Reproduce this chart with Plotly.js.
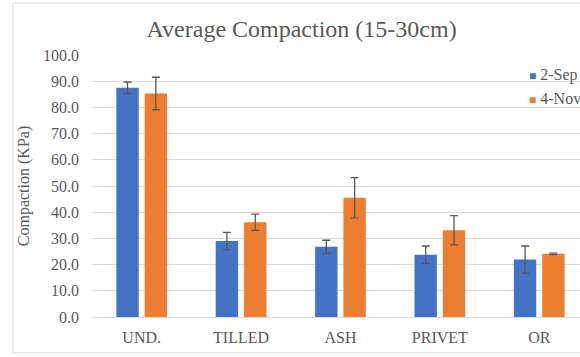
<!DOCTYPE html>
<html>
<head>
<meta charset="utf-8">
<script src="https://cdn.plot.ly/plotly-3.0.1.min.js"></script>
<style>
  html, body { margin: 0; padding: 0; background: #fff; }
  #chart { width: 580px; height: 357px; }
</style>
</head>
<body>
<div id="chart"></div>
<script>
// Average compaction at 15-30 cm depth, per treatment, two sampling dates
const categories = ["UND.", "TILLED", "ASH", "PRIVET", "OR"];
const sepValues = [87.5, 29.0, 26.8, 23.8, 21.9];
const sepErrors = [2.2, 3.3, 2.5, 3.3, 5.2];
const novValues = [85.3, 36.2, 45.5, 33.1, 24.1];
const novErrors = [6.2, 3.1, 7.7, 5.6, 0.3];
const seriesNames = ["2-Sep", "4-Nov"];
const seriesColors = ["#4472C4", "#ED7D31"];
const yTicks = [0, 10, 20, 30, 40, 50, 60, 70, 80, 90, 100];

const serif = "'Liberation Serif', 'Times New Roman', serif";
const grey = "#595959";

const errStyle = { type: "data", visible: true, color: "#595959", thickness: 1.3, width: 4 };

const traces = [
  {
    type: "bar", name: seriesNames[0], x: categories, y: sepValues,
    marker: { color: seriesColors[0] },
    error_y: Object.assign({ array: sepErrors }, errStyle)
  },
  {
    type: "bar", name: seriesNames[1], x: categories, y: novValues,
    marker: { color: seriesColors[1] },
    error_y: Object.assign({ array: novErrors }, errStyle)
  }
];

// Legend drawn as text entries at the right edge (it runs past the frame)
const legendEntries = seriesNames.map((name, i) => ({
  xref: "paper", yref: "paper",
  x: 0.892, y: 0.924 - i * 0.09, xanchor: "left", yanchor: "middle",
  showarrow: false, align: "left",
  text: `<span style="color:${seriesColors[i]};font-size:12px">■</span> ${name}`,
  font: { family: serif, size: 16, color: grey }
}));

const layout = {
  width: 580, height: 357,
  margin: { l: 92, r: 0, t: 55, b: 40, pad: 0 },
  paper_bgcolor: "#fff", plot_bgcolor: "#fff",
  barmode: "group", bargap: 0.43, bargroupgap: 0.21,
  showlegend: false,
  title: {
    text: "Average Compaction (15-30cm)",
    font: { family: serif, size: 24, color: grey },
    x: 0.52, xanchor: "center", y: 0.92, yanchor: "middle"
  },
  xaxis: {
    type: "category", range: [-0.5, 4.41], fixedrange: true,
    showgrid: false, zeroline: false, showline: false, ticks: "",
    ticklabelstandoff: 9,
    tickfont: { family: serif, size: 16, color: grey }
  },
  yaxis: {
    range: [0, 100], tickvals: yTicks,
    ticktext: yTicks.map(v => v.toFixed(1)),
    showgrid: true, gridcolor: "#d9d9d9", gridwidth: 1,
    zeroline: true, zerolinecolor: "#d9d9d9", zerolinewidth: 1,
    showline: false, ticks: "", ticklen: 0,
    ticklabelstandoff: 12,
    tickfont: { family: serif, size: 16, color: grey },
    title: { text: "Compaction (KPa)", font: { family: serif, size: 16, color: grey }, standoff: 9 }
  },
  annotations: legendEntries,
  shapes: [
    {
      type: "rect", xref: "paper", yref: "paper",
      x0: -0.162, x1: 1.2, y0: -0.137, y1: 1.198,
      line: { color: "#d9d9d9", width: 1 }, fillcolor: "rgba(0,0,0,0)", layer: "below"
    }
  ]
};

Plotly.newPlot("chart", traces, layout, { displayModeBar: false, staticPlot: true });
</script>
</body>
</html>
